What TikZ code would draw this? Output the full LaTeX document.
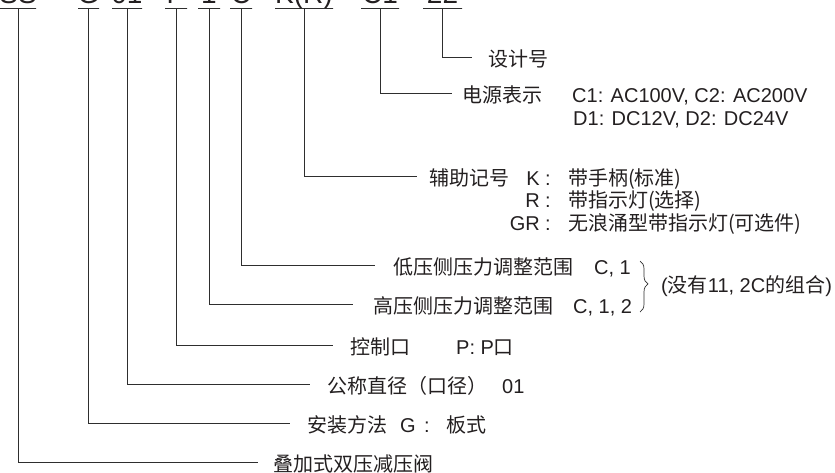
\documentclass[tikz,border=0pt]{standalone}
\usepackage{fontspec}
\setmainfont{Liberation Sans}
\newfontfamily\cjk{Noto Sans CJK SC}
\usetikzlibrary{decorations.pathreplacing}
\definecolor{txt}{HTML}{231F20}
\definecolor{lnc}{HTML}{2E2E2E}
\begin{document}
\begin{tikzpicture}[x=1pt,y=-1pt,
  ln/.style={draw=lnc,line width=0.8pt},
  ul/.style={draw=lnc,line width=0.8pt,inner sep=0pt,outer sep=0pt,minimum height=0pt},
  code/.style={anchor=base,inner sep=0pt,text=txt,font=\fontsize{28}{32}\selectfont},
  lbl/.style={anchor=west,inner sep=0pt,text height=19pt,text depth=1pt,text=txt,font=\fontsize{20}{24}\selectfont},
  key/.style={lbl,anchor=east}
]
\useasboundingbox (0,0) rectangle (835,472);
% code segments (cut off at top)
\node[code] (cSS) at (18,3.5) {SS};
\node[code] (cG)  at (88.5,3.5) {G};
\node[code] (c01) at (127,3.5) {01};
\node[code] (cP)  at (176,3.5) {P};
\node[code] (cH)  at (209,3.5) {1};
\node[code] (cL)  at (241,3.5) {C};
\node[code] (cK)  at (304,3.5) {K(R)};
\node[code] (cC1) at (380,3.5) {C1};
\node[code] (c22) at (442.5,3.5) {22};
% underlines
\node[ul,minimum width=36pt] (uSS) at (18,8.3) {};
\node[ul,minimum width=21pt] (uG)  at (88.5,8.3) {};
\node[ul,minimum width=30pt] (u01) at (127,8.3) {};
\node[ul,minimum width=22pt] (uP)  at (176,8.3) {};
\node[ul,minimum width=22pt] (uH)  at (209,8.3) {};
\node[ul,minimum width=22pt] (uL)  at (241,8.3) {};
\node[ul,minimum width=58pt] (uK)  at (304,8.3) {};
\node[ul,minimum width=38pt] (uC1) at (380,8.3) {};
\node[ul,minimum width=39pt] (u22) at (442.5,8.3) {};
% labels
\node[lbl] (l22) at (488,57) {\cjk 设计号};
\node[lbl] (lC1) at (462,93.3) {\cjk 电源表示};
\node[lbl] (lC1a) at (572,93.3) {C1: AC100V, C2: AC200V};
\node[lbl] (lC1b) at (573,116.3) {D1: DC12V, D2: DC24V};
\node[lbl] (lK) at (429,176) {\cjk 辅助记号};
\node[key] (kK) at (540,176) {K};
\node[key] (kR) at (540,198.5) {R};
\node[key] (kGR) at (540,221) {GR};
\node[lbl] (cK1) at (545,176) {:};
\node[lbl] (cK2) at (545,198.5) {:};
\node[lbl] (cK3) at (545,221) {:};
\node[lbl] (vK) at (568,176) {\cjk 带手柄(标准)};
\node[lbl] (vR) at (568,198.5) {\cjk 带指示灯(选择)};
\node[lbl] (vGR) at (568,221) {\cjk 无浪涌型带指示灯(可选件)};
\node[lbl] (lL) at (393,265.7) {\cjk 低压侧压力调整范围};
\node[lbl] (lLv) at (594,265.7) {C, 1};
\node[lbl] (lH) at (373,304) {\cjk 高压侧压力调整范围};
\node[lbl] (lHv) at (573,304) {C, 1, 2};
\node[lbl] (note) at (661,283) {(\cjk 没有\normalfont 11, 2C\cjk 的组合\normalfont)};
\node[lbl] (lP) at (350,345) {\cjk 控制口};
\node[lbl] (lPv) at (456,345) {P: P{\cjk 口}};
\node[lbl] (l01) at (327,384.3) {\cjk 公称直径（口径）};
\node[lbl] (l01v) at (502,384.3) {01};
\node[lbl] (lG) at (307,423.3) {\cjk 安装方法};
\node[lbl] (lGv) at (400,423.3) {G};
\node[lbl] (lGc) at (424,423.3) {:};
\node[lbl] (lGw) at (446,423.3) {\cjk 板式};
\node[lbl] (lSS) at (273,462.5) {\cjk 叠加式双压减压阀};
% connectors
\draw[ln] (u22.south) |- ([xshift=-16pt]l22.west);
\draw[ln] (uC1.south) |- ([xshift=-10pt]lC1.west);
\draw[ln] (uK.south) |- ([xshift=-12pt]lK.west);
\draw[ln] (uL.south) |- ([xshift=-18pt]lL.west);
\draw[ln] (uH.south) |- ([xshift=-20pt]lH.west);
\draw[ln] (uP.south) |- ([xshift=-17pt]lP.west);
\draw[ln] (u01.south) |- ([xshift=-17pt]l01.west);
\draw[ln] (uG.south) |- ([xshift=-17pt]lG.west);
\draw[ln] (uSS.south) |- ([xshift=-15pt]lSS.west);
% brace
\draw[ln,line width=0.7pt,decorate,decoration={brace,amplitude=8pt,aspect=0.45}] (640,261) -- (640,312);
\end{tikzpicture}
\end{document}
